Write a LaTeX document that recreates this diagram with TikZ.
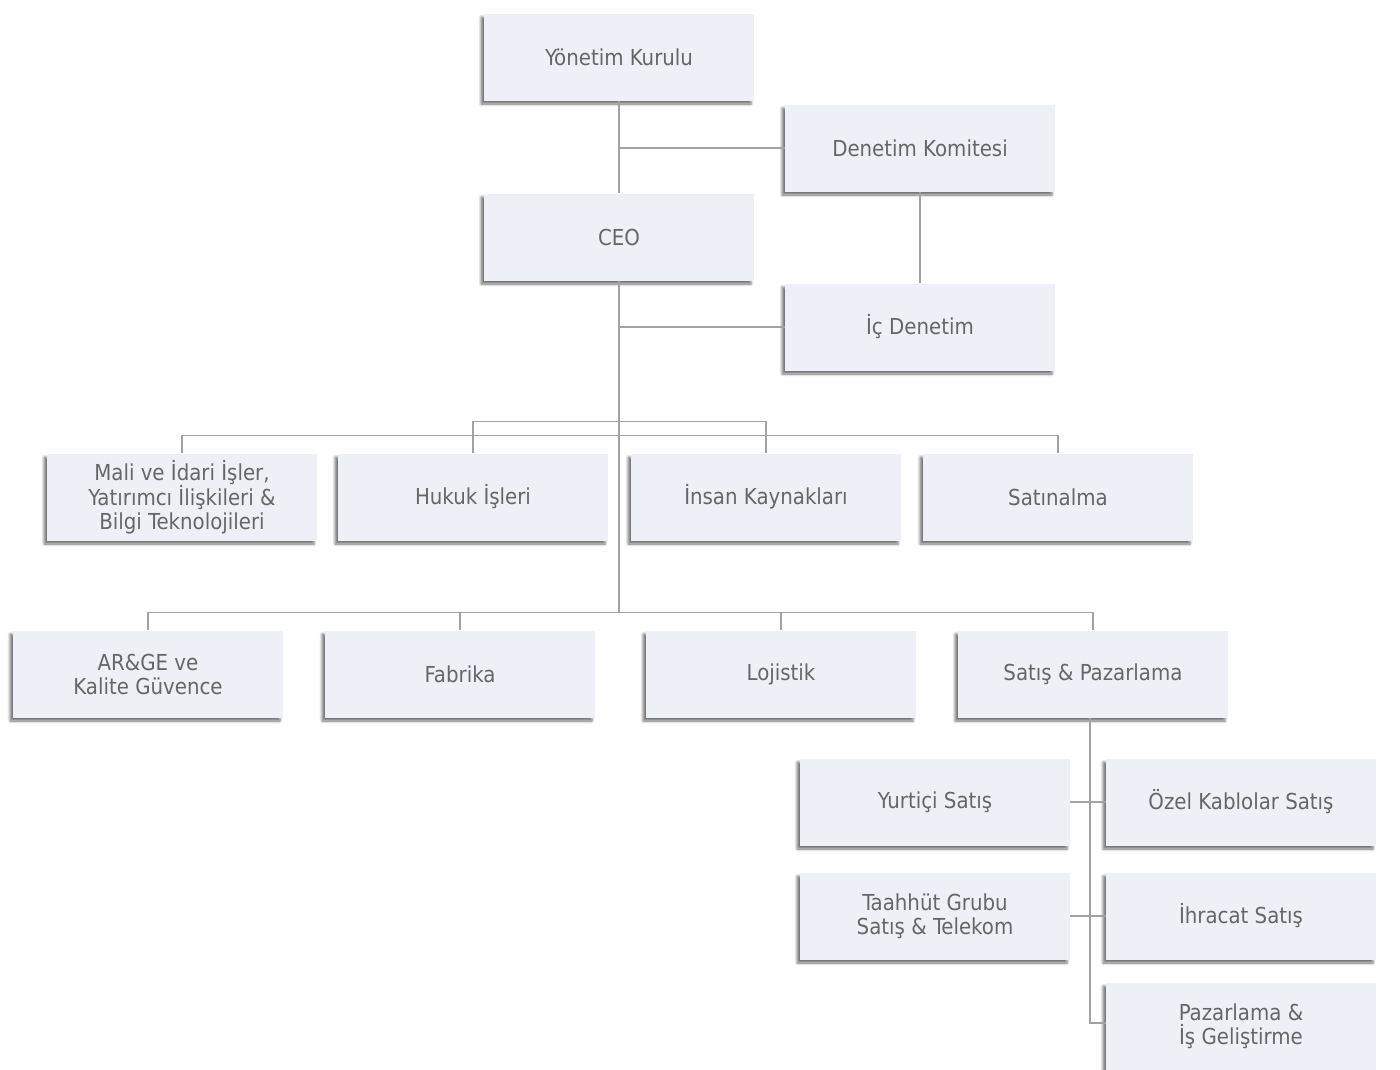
\documentclass[tikz,border=0pt]{standalone}
\usepackage{fontspec}
\setmainfont{DejaVu Sans Condensed}
\usepackage{tikz}
\usetikzlibrary{shadows.blur}
\definecolor{boxfill}{HTML}{EDF0F6}
\definecolor{boxtext}{HTML}{666666}
\definecolor{linkgray}{HTML}{A2A2A2}
\tikzset{
  unit/.style={rectangle, fill=boxfill, minimum width=270pt, minimum height=87pt,
    inner sep=0pt, align=center, text=boxtext,
    font=\fontsize{22}{24}\selectfont,
    blur shadow={shadow xshift=-3pt, shadow yshift=-3.5pt, shadow blur radius=2.5pt, shadow opacity=55}},
  link/.style={draw=linkgray, line width=1.3pt}
}

\begin{document}
\begin{tikzpicture}[x=1pt,y=-1pt]
			\useasboundingbox (0,0) rectangle (1400,1069);
			% Board and audit
			\node[unit] (yk) at (619,57) {Yönetim Kurulu};
			\node[unit] (dk) at (920,148) {Denetim Komitesi};
			\node[unit] (ceo) at (619,237) {CEO};
			\node[unit] (icd) at (920,327) {İç Denetim};
			% First row
			\node[unit] (mali) at (182,497) {Mali ve İdari İşler,\\Yatırımcı İlişkileri \&\\Bilgi Teknolojileri};
			\node[unit] (hukuk) at (473,497) {Hukuk İşleri};
			\node[unit] (ik) at (766,497) {İnsan Kaynakları};
			\node[unit] (satin) at (1058,497) {Satınalma};
			% Second row
			\node[unit] (arge) at (148,674) {AR\&GE ve\\Kalite Güvence};
			\node[unit] (fab) at (460,674) {Fabrika};
			\node[unit] (loj) at (781,674) {Lojistik};
			\node[unit] (sp) at (1093,674) {Satış \& Pazarlama};
			% Sales units
			\node[unit] (yurt) at (935,802) {Yurtiçi Satış};
			\node[unit] (ozel) at (1241,802) {Özel Kablolar Satış};
			\node[unit] (taah) at (935,916) {Taahhüt Grubu\\Satış \& Telekom};
			\node[unit] (ihr) at (1241,916) {İhracat Satış};
			\node[unit] (paz) at (1241,1026) {Pazarlama \&\\İş Geliştirme};
			% Trunk
			\coordinate (split) at (619,612);
			\coordinate (salesend) at (1090,1023);
			\draw[link] (yk.south) -- (ceo.north);
			\draw[link] (ceo.south) -- (split);
			\draw[link] (dk.west) -- (dk.west -| yk.south);
			\draw[link] (dk.south) -- (icd.north);
			\draw[link] (icd.west) -- (icd.west -| ceo.south);
			% Staff lines
			\draw[link] (hukuk.north) -- ++(0,-32) -| (ik.north);
			\draw[link] (mali.north) -- ++(0,-18) -| (satin.north);
			% Operations lines
			\draw[link] (arge.north) -- ++(0,-18) -| (sp.north);
			\foreach \n in {fab,loj} {
			\draw[link] (\n.north) -- ++(0,-18);
			}
			% Sales lines
			\draw[link] (sp.south -| salesend) -- (salesend) -- (salesend -| paz.west);
			\draw[link] (yurt.east) -- (ozel.west);
			\draw[link] (taah.east) -- (ihr.west);
		\end{tikzpicture}
\end{document}
